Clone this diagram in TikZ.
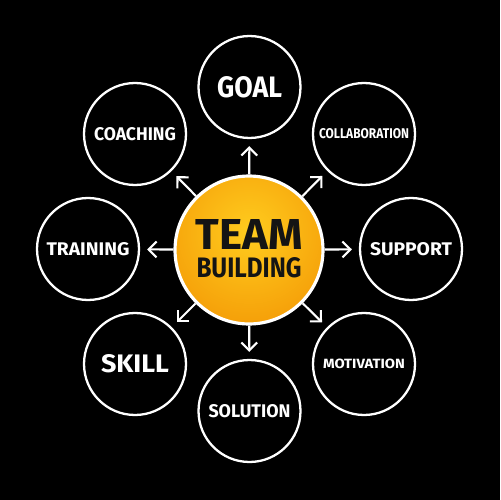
\documentclass[tikz,border=0pt]{standalone}
\usepackage{graphicx}
\usepackage{fontspec}
\setmainfont{Fira Sans}
\usetikzlibrary{arrows.meta}
\definecolor{hubin}{RGB}{255,204,30}
\definecolor{hubout}{RGB}{245,158,8}
\definecolor{ink}{RGB}{20,20,20}
\newcommand\fitlbl[3]{\resizebox{#1cm}{#2cm}{\bfseries #3}}
\begin{document}
\begin{tikzpicture}[x=0.02cm,y=-0.02cm,
  outer/.style={circle,draw=white,line width=1.3pt,minimum size=2.04cm,inner sep=0pt,text=white},
  hub/.style={circle,draw=white,line width=1.8pt,minimum size=2.96cm,inner sep=0pt},
  word/.style={inner sep=0pt},
  link/.style={white,line width=1.2pt,-{Straight Barb[length=4.5pt,width=9pt,line width=1.2pt]},shorten >=0.14cm}]
\fill[black] (0,0) rectangle (500,500);
\useasboundingbox (0,0) rectangle (500,500);
% hub shading
\begin{scope}
  \clip (249,250) circle (1.48cm);
  \shade[inner color=hubin,outer color=hubout] (249,232) circle (1.9cm);
\end{scope}
\node[hub] (hub) at (249,250) {};
\node[word,text=ink,align=center] (title) at (249,249)
  {\fitlbl{2.14}{0.60}{TEAM}\\[0.13cm]\fitlbl{2.10}{0.40}{BUILDING}};
% outer circles
\node[outer] (goal) at (249.5,87) {\fitlbl{1.30}{0.42}{GOAL}};
\node[outer] (collab) at (364,134) {\fitlbl{1.80}{0.20}{COLLABORATION}};
\node[outer] (support) at (411,249) {\fitlbl{1.64}{0.26}{SUPPORT}};
\node[outer] (motiv) at (364,364) {\fitlbl{1.64}{0.19}{MOTIVATION}};
\node[outer] (solution) at (249.5,411) {\fitlbl{1.64}{0.26}{SOLUTION}};
\node[outer] (skill) at (135,364) {\fitlbl{1.36}{0.36}{SKILL}};
\node[outer] (training) at (88,249) {\fitlbl{1.66}{0.26}{TRAINING}};
\node[outer] (coaching) at (135,134) {\fitlbl{1.64}{0.26}{COACHING}};
% arrows
\foreach \t in {goal,collab,support,motiv,solution,skill,training,coaching}
  \draw[link] (hub) -- (\t);
\end{tikzpicture}
\end{document}
